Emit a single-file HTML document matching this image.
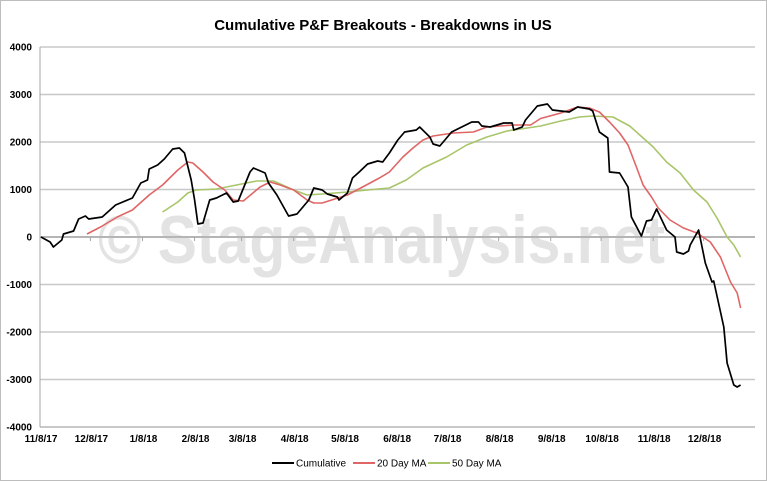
<!DOCTYPE html>
<html><head><meta charset="utf-8"><style>
body{margin:0;background:#fff;}
svg{display:block;font-family:"Liberation Sans",Arial,sans-serif;}
</style></head><body>
<svg id="chart" width="767" height="481" viewBox="0 0 767 481">
<rect x="0.5" y="0.5" width="766" height="480" fill="#fff" stroke="#bdbdbd"/>
<text x="383" y="30" text-anchor="middle" font-size="15" font-weight="bold" fill="#000">Cumulative P&amp;F Breakouts - Breakdowns in US</text>
<g id="grid"></g>
<text x="98" y="263" font-size="68" font-weight="bold" fill="#e3e3e3" textLength="567" lengthAdjust="spacingAndGlyphs">© StageAnalysis.net</text>
<g id="axes"></g>
<g id="series"></g>
<g>
<line x1="272" y1="463" x2="294" y2="463" stroke="#000" stroke-width="2"/>
<text x="296" y="466.5" font-size="10">Cumulative</text>
<line x1="353" y1="463" x2="375" y2="463" stroke="#e06666" stroke-width="2"/>
<text x="377" y="466.5" font-size="10">20 Day MA</text>
<line x1="428" y1="463" x2="450" y2="463" stroke="#a9c56a" stroke-width="2"/>
<text x="452" y="466.5" font-size="10">50 Day MA</text>
</g>
</svg>
<script>
const yTicks=[4000,3000,2000,1000,0,-1000,-2000,-3000,-4000];
const xTickLabels=["11/8/17","12/8/17","1/8/18","2/8/18","3/8/18","4/8/18","5/8/18","6/8/18","7/8/18","8/8/18","9/8/18","10/8/18","11/8/18","12/8/18"];
const xTickDays=[0,30,61,92,120,151,181,212,242,273,304,334,365,395];
const cumDays=[0.6,6,8,13,14,20,23,27,29,37,45,55,60,64,65,70,74,79,83,86,90,92,94,97,101,105,111,115,118,125,127,134,136,141,148,153,160,163,168,171,177,178,183,186,190,195,201,204,208,213,217,224,226,232,234,238,241,245,251,257,261,263,268,276,281,282,287,289,296,302,305,315,320,327,329,333,338,339,345,350,352,358,361,364,367,373,378,379,383,386,387,392,396,400,401,407,409,413,415,417];
const cumVals=[0,-105,-210,-63,63,126,379,442,379,421,674,821,1137,1200,1432,1516,1642,1853,1874,1768,1200,779,274,295,779,821,926,737,758,1368,1453,1347,1137,884,442,484,779,1032,989,905,842,779,926,1242,1368,1537,1600,1579,1768,2042,2211,2253,2316,2105,1958,1916,2042,2211,2316,2421,2421,2337,2316,2400,2400,2253,2316,2463,2758,2800,2674,2632,2737,2695,2653,2211,2084,1368,1347,1053,421,21,337,358,589,147,0,-316,-358,-295,-168,147,-547,-947,-926,-1895,-2653,-3116,-3158,-3116];
const ma20Days=[28,36,46,55,65,73,82,88,91,97,103,110,115,121,131,137,143,151,159,163,168,183,192,202,208,216,222,228,234,246,258,266,282,292,298,310,320,327,333,339,345,350,355,359,364,368,375,383,391,399,405,411,415,417];
const ma20Vals=[63,211,421,568,884,1095,1411,1579,1558,1368,1158,989,779,758,1053,1158,1095,989,779,716,716,884,1053,1242,1368,1684,1874,2042,2126,2189,2211,2316,2358,2358,2495,2611,2737,2716,2632,2421,2189,1937,1474,1095,842,611,358,189,84,-105,-421,-947,-1179,-1495];
const ma50Days=[73,82,88,93,105,117,129,139,143,151,159,168,183,195,208,218,228,242,254,266,278,290,298,310,321,329,341,351,357,365,373,381,389,397,403,409,413,417];
const ma50Vals=[526,737,926,989,1011,1095,1179,1179,1116,989,884,905,947,989,1032,1200,1453,1684,1937,2105,2232,2295,2337,2442,2526,2547,2526,2337,2147,1895,1579,1347,989,737,400,0,-168,-421];

const NS="http://www.w3.org/2000/svg";
const X0=40,X1=755,PXD=1.68,Y0=237,PXV=47.5/1000;
const xs=d=>X0+d*PXD;
const ys=v=>Y0-v*PXV;
function mk(tag,attrs,parent){const e=document.createElementNS(NS,tag);for(const k in attrs)e.setAttribute(k,attrs[k]);parent.appendChild(e);return e;}
const grid=document.getElementById('grid'),axes=document.getElementById('axes'),series=document.getElementById('series');
yTicks.forEach(t=>{
  if(t!==-4000){const g=mk('line',{x1:X0,x2:X1,y1:ys(t),y2:ys(t),stroke:'#c8c8c8','stroke-width':1.5},grid);
  
  }
  const l=mk('text',{x:32,y:ys(t)+3.5,'text-anchor':'end','font-size':10,'font-weight':'bold'},axes);
  
  
  l.textContent=t;
});
const ya=mk('line',{x1:X0,x2:X0,y1:ys(4000),y2:ys(-4000),stroke:'#a6a6a6','stroke-width':1},axes);


const xa=mk('line',{x1:X0,x2:X1,y1:ys(-4000),y2:ys(-4000),stroke:'#a6a6a6','stroke-width':1.2},axes);


const za=mk('line',{x1:X0,x2:X1,y1:ys(0),y2:ys(0),stroke:'#a6a6a6','stroke-width':1.5},axes);


xTickLabels.forEach((lab,i)=>{
  const x=xs(xTickDays[i]);
  const tk=mk('line',{x1:x,x2:x,y1:ys(0),y2:ys(0)+4,stroke:'#a6a6a6'},axes);
  
  
  const t=mk('text',{x:x+1,y:442,'text-anchor':'middle','font-size':10,'font-weight':'bold'},axes);
  
  
  t.textContent=lab;
});
function line(days,vals,color,w,name){
  const p=mk('polyline',{points:days.map((d,i)=>xs(d).toFixed(1)+','+ys(vals[i]).toFixed(1)).join(' '),fill:'none',stroke:color,'stroke-width':w,'stroke-linejoin':'round'},series);
  
  
}
line(ma50Days,ma50Vals,'#a9c56a',1.6,'series-50-day-ma');
line(ma20Days,ma20Vals,'#e06666',1.6,'series-20-day-ma');
line(cumDays,cumVals,'#000',1.7,'series-cumulative');
</script>
</body></html>
